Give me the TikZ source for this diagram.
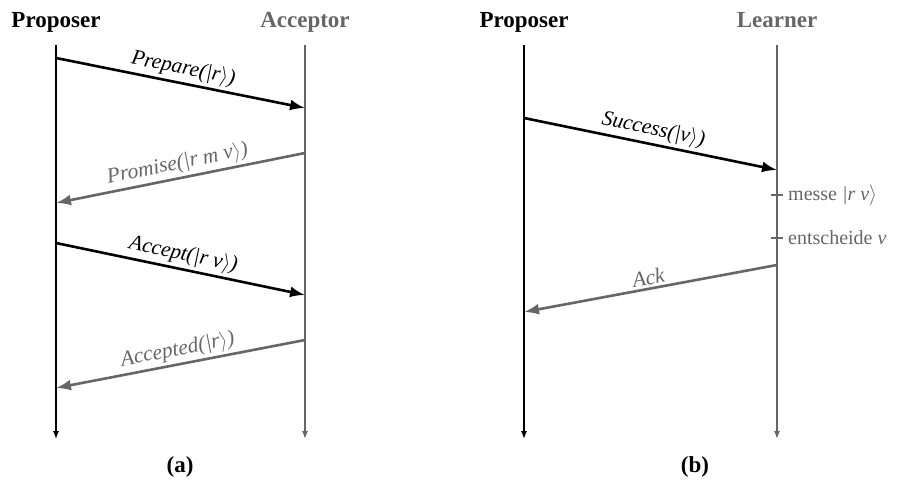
\documentclass[tikz,border=0pt]{standalone}
\usepackage{fontspec}
\setmainfont{Liberation Serif}
\usetikzlibrary{arrows.meta,positioning}
\newcommand{\kt}[1]{|#1$\rangle$}
\definecolor{lgray}{HTML}{666666}
\tikzset{
  hdr/.style={font=\fontsize{23}{27}\selectfont\bfseries, inner sep=0pt, anchor=base},
  lifeline/.style={line width=1.3pt, -{Latex[length=8pt,width=6pt]}},
  msg/.style={line width=2.6pt, -{Latex[length=15pt,width=11pt]}},
  back/.style={line width=2.6pt, lgray, {Latex[length=15pt,width=11pt]}-},
  lbl/.style={font=\fontsize{21.5}{25}\selectfont\itshape, sloped, above, inner sep=2.5pt},
  note/.style={font=\fontsize{20}{24}\selectfont, right, inner sep=0pt}
}
\begin{document}
\begin{tikzpicture}[x=1pt, y=-1pt]
\useasboundingbox (0,0) rectangle (903,484);

% --- headers ---
\node[hdr] (propa) at (56,28) {Proposer};
\node[hdr, text=lgray] (acc) at (305,28) {Acceptor};
\node[hdr] (propb) at (524,28) {Proposer};
\node[hdr, text=lgray] (lrn) at (777,28) {Learner};

% --- lifeline ends ---
\coordinate (propaE) at (56,439);
\coordinate (accE) at (305,439);
\coordinate (propbE) at (524,439);
\coordinate (lrnE) at (777,439);

\draw[lifeline] (56,45) -- (propaE);
\draw[lifeline, lgray] (305,45) -- (accE);
\draw[lifeline] (524,45) -- (propbE);
\draw[lifeline, lgray] (777,45) -- (lrnE);

% --- message points (a) ---
\coordinate (a1) at (56,58);   \coordinate (b1) at (305,108);
\coordinate (b2) at (305,153); \coordinate (a2) at (56,203);
\coordinate (a3) at (56,243);  \coordinate (b3) at (305,295);
\coordinate (b4) at (305,340); \coordinate (a4) at (56,388);

\draw[msg] (a1) -- node[lbl] {Prepare(\kt{r})} (b1);
\draw[back] (a2) -- node[lbl, text=lgray] {Promise(\kt{r m v})} (b2);
\draw[msg] (a3) -- node[lbl] {Accept(\kt{r v})} (b3);
\draw[back] (a4) -- node[lbl, text=lgray] {Accepted(\kt{r})} (b4);

% --- message points (b) ---
\coordinate (c1) at (524,118); \coordinate (d1) at (777,170);
\coordinate (d2) at (777,265); \coordinate (c2) at (524,312);

\draw[msg] (c1) -- node[lbl] {Success(\kt{v})} (d1);
\draw[back] (c2) -- node[lbl, text=lgray] {Ack} (d2);

% --- learner steps ---
\coordinate (t1) at (777,195);
\coordinate (t2) at (777,238);
\draw[lgray, line width=2.6pt] ([xshift=-6pt]t1) -- ([xshift=6pt]t1);
\draw[lgray, line width=2.6pt] ([xshift=-6pt]t2) -- ([xshift=6pt]t2);
\node[note, text=lgray] (m1) at (788,195) {messe \textit{\kt{r v}}};
\node[note, text=lgray] (m2) at (788,238) {entscheide \textit{v}};

% --- captions ---
\node[hdr] (capa) at (180,472) {(a)};
\node[hdr] (capb) at (695,472) {(b)};
\end{tikzpicture}
\end{document}
